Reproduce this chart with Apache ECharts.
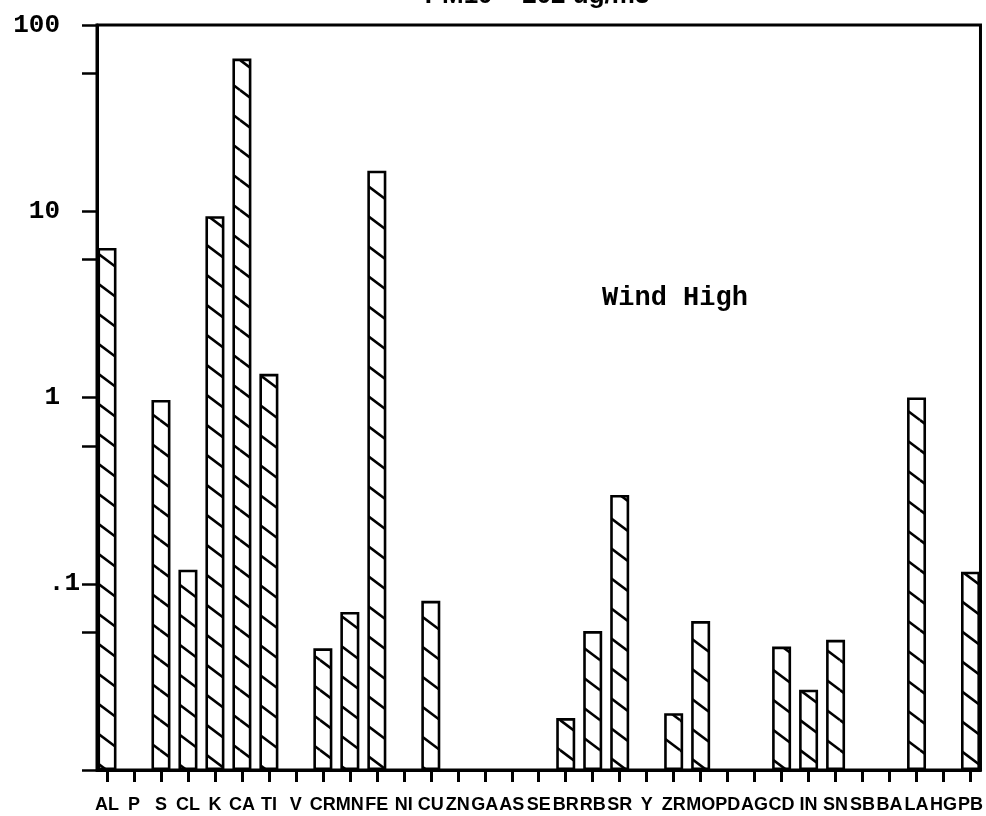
<!DOCTYPE html>
<html>
<head>
<meta charset="utf-8">
<script src="https://cdn.jsdelivr.net/npm/echarts@6/dist/echarts.min.js"></script>
<style>
html,body{margin:0;padding:0;background:#fff;}
#chart{width:986px;height:816px;}
</style>
</head>
<body>
<div id="chart"></div>
<script>
const titleText = 'PM10 = 202 ug/m3';
const annotationText = 'Wind High';
const categories = ['AL','P','S','CL','K','CA','TI','V','CR','MN','FE','NI','CU','ZN','GA','AS','SE','BR','RB','SR','Y','ZR','MO','PD','AG','CD','IN','SN','SB','BA','LA','HG','PB'];
const values = [6.35,null,0.97,0.119,9.4,66,1.34,null,0.045,0.0705,16.5,null,0.081,null,null,null,null,0.019,0.0557,0.30,null,0.0202,0.063,null,null,0.046,0.027,0.05,null,null,1.0,null,0.116];
const yLabelMap = [[100,'100'],[10,'10'],[1,'1'],[0.1,'.1']];

function hatch(){
  const W=40,H=30;
  const c=document.createElement('canvas');
  c.width=W;c.height=H;
  const g=c.getContext('2d');
  g.fillStyle='#fff';g.fillRect(0,0,W,H);
  g.strokeStyle='#000';g.lineWidth=2.6;
  [[0,0],[W,0],[-W,0],[0,H],[0,-H]].forEach(function(d){
    g.beginPath();g.moveTo(d[0],d[1]);g.lineTo(d[0]+W,d[1]+H);g.stroke();
  });
  return c;
}

const barData = [];
categories.forEach(function(c,i){ if(values[i]!=null) barData.push([i, values[i]]); });
const idx = categories.map(function(c,i){return i;});

function yLabel(v){
  for (const p of yLabelMap){ if (Math.abs(v-p[0]) < p[0]*1e-6) return p[1]==='.1' ? '{b|.1}' : '{a|'+p[1]+'}'; }
  return '';
}

const chart = echarts.init(document.getElementById('chart'));
chart.setOption({
  animation:false,
  backgroundColor:'#fff',
  grid:{left:97,right:1,top:25,bottom:46,show:true,borderColor:'#000',borderWidth:3,backgroundColor:'transparent'},
  xAxis:{
    type:'value', min:-0.37, max:32.37,
    splitLine:{show:false},
    axisLine:{show:true,onZero:false,lineStyle:{color:'#000',width:3}},
    axisTick:{show:true,inside:false,length:12,customValues:idx,lineStyle:{color:'#000',width:3}},
    axisLabel:{show:true,customValues:idx,margin:26,color:'#000',
      fontFamily:'Liberation Sans, Arial, sans-serif',fontWeight:'bold',fontSize:18,
      formatter:function(v){return categories[Math.round(v)]||'';}}
  },
  yAxis:{
    type:'log', logBase:10, min:0.01, max:100, startValue:0.01,
    splitLine:{show:false},
    axisLine:{show:true,onZero:false,lineStyle:{color:'#000',width:3}},
    axisTick:{show:true,length:15,lineStyle:{color:'#000',width:2.5}},
    minorTick:{show:true,splitNumber:2,length:15,lineStyle:{color:'#000',width:2.5}},
    axisLabel:{margin:17,color:'#000',formatter:yLabel,
      rich:{
        a:{fontFamily:'Liberation Mono, Courier New, monospace',fontWeight:'bold',fontSize:26,color:'#000',padding:[0,20,0,0]},
        b:{fontFamily:'Liberation Mono, Courier New, monospace',fontWeight:'bold',fontSize:26,color:'#000'}
      }}
  },
  series:[{
    type:'bar',
    data:barData,
    barWidth:19,
    itemStyle:{color:{image:hatch(),repeat:'repeat'},borderColor:'#000',borderWidth:2.6}
  }],
  graphic:[
    {type:'text',style:{text:titleText,x:537,y:9,align:'center',verticalAlign:'bottom',
      font:'bold 26px "Liberation Sans", Arial, sans-serif',fill:'#000'}, z:100},
    {type:'text',style:{text:annotationText,x:675,y:298,align:'center',verticalAlign:'middle',
      font:'bold 27px "Liberation Mono", "Courier New", monospace',fill:'#000'}, z:100}
  ]
});
</script>
</body>
</html>
